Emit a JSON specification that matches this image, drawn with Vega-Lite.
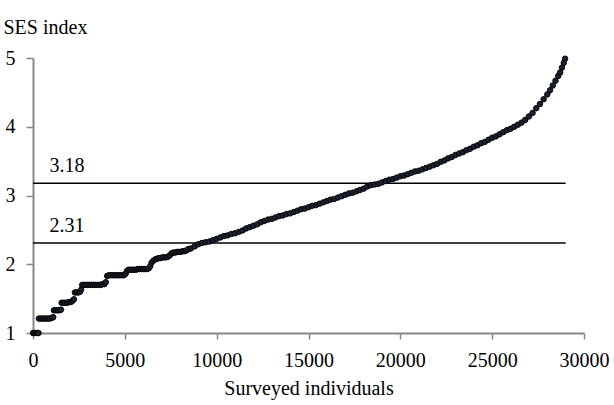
{
  "$schema": "https://vega.github.io/schema/vega-lite/v6.json",
  "width": 551,
  "height": 275,
  "autosize": "none",
  "padding": {"left": 33, "top": 58, "right": 30, "bottom": 72},
  "background": "white",
  "config": {
    "view": {"stroke": null},
    "font": "Liberation Serif",
    "axis": {
      "domainColor": "#878787",
      "domainWidth": 2,
      "tickColor": "#878787",
      "tickWidth": 1.5,
      "grid": false,
      "labelFont": "Liberation Serif",
      "labelFontSize": 20,
      "labelColor": "#000000",
      "titleFont": "Liberation Serif",
      "titleFontSize": 20,
      "titleFontWeight": "normal",
      "titleColor": "#000000"
    }
  },
  "datasets": {
    "pts": [
      {"x":0,"y":1.0},{"x":80,"y":1.0},{"x":160,"y":1.0},{"x":240,"y":1.0},{"x":300,"y":1.0},
      {"x":320,"y":1.21},{"x":420,"y":1.21},{"x":520,"y":1.21},{"x":620,"y":1.21},{"x":720,"y":1.21},{"x":820,"y":1.21},{"x":920,"y":1.21},{"x":1020,"y":1.22},{"x":1100,"y":1.23},
      {"x":1140,"y":1.33},{"x":1240,"y":1.33},{"x":1340,"y":1.33},{"x":1440,"y":1.33},{"x":1520,"y":1.34},
      {"x":1560,"y":1.44},{"x":1660,"y":1.44},{"x":1760,"y":1.44},{"x":1860,"y":1.44},{"x":1960,"y":1.45},{"x":2060,"y":1.45},{"x":2160,"y":1.47},{"x":2230,"y":1.49},
      {"x":2280,"y":1.59},{"x":2380,"y":1.59},{"x":2480,"y":1.59},{"x":2560,"y":1.6},{"x":2620,"y":1.63},
      {"x":2680,"y":1.7},{"x":2780,"y":1.7},{"x":2880,"y":1.7},{"x":2980,"y":1.7},{"x":3080,"y":1.7},{"x":3180,"y":1.7},{"x":3280,"y":1.7},{"x":3380,"y":1.7},{"x":3480,"y":1.7},{"x":3580,"y":1.7},{"x":3680,"y":1.7},{"x":3780,"y":1.71},{"x":3880,"y":1.71},{"x":3960,"y":1.74},
      {"x":4040,"y":1.83},{"x":4140,"y":1.84},{"x":4240,"y":1.84},{"x":4340,"y":1.84},{"x":4440,"y":1.84},{"x":4540,"y":1.84},{"x":4640,"y":1.84},{"x":4740,"y":1.84},{"x":4840,"y":1.84},{"x":4940,"y":1.84},{"x":5040,"y":1.86},
      {"x":5110,"y":1.9},{"x":5200,"y":1.92},{"x":5300,"y":1.92},{"x":5400,"y":1.92},{"x":5500,"y":1.92},{"x":5600,"y":1.92},{"x":5700,"y":1.93},{"x":5800,"y":1.93},{"x":5900,"y":1.93},{"x":6000,"y":1.93},{"x":6100,"y":1.93},{"x":6200,"y":1.93},{"x":6300,"y":1.94},{"x":6380,"y":1.97},
      {"x":6450,"y":2.02},{"x":6550,"y":2.05},{"x":6650,"y":2.07},{"x":6750,"y":2.08},{"x":6850,"y":2.09},{"x":6950,"y":2.09},{"x":7050,"y":2.1},{"x":7150,"y":2.1},{"x":7250,"y":2.1},{"x":7350,"y":2.11},{"x":7450,"y":2.13},
      {"x":7550,"y":2.16},{"x":7650,"y":2.17},{"x":7750,"y":2.17},{"x":7850,"y":2.18},{"x":7950,"y":2.18},{"x":8050,"y":2.18},{"x":8150,"y":2.19},{"x":8250,"y":2.19},{"x":8350,"y":2.2},
      {"x":8450,"y":2.22},{"x":8600,"y":2.23},{"x":8800,"y":2.26},{"x":9000,"y":2.29},{"x":9200,"y":2.31},{"x":9400,"y":2.32},{"x":9600,"y":2.33},{"x":9800,"y":2.35},{"x":10000,"y":2.37},{"x":10200,"y":2.39},{"x":10400,"y":2.41},{"x":10600,"y":2.42},{"x":10800,"y":2.44},{"x":11000,"y":2.45},{"x":11200,"y":2.47},{"x":11400,"y":2.49},{"x":11600,"y":2.52},{"x":11800,"y":2.54},{"x":12000,"y":2.56},{"x":12200,"y":2.58},{"x":12400,"y":2.61},{"x":12600,"y":2.63},{"x":12800,"y":2.65},{"x":13000,"y":2.66},{"x":13200,"y":2.68},{"x":13400,"y":2.7},{"x":13600,"y":2.71},{"x":13800,"y":2.73},{"x":14000,"y":2.74},{"x":14200,"y":2.76},{"x":14400,"y":2.78},{"x":14600,"y":2.8},{"x":14800,"y":2.81},{"x":15000,"y":2.83},{"x":15200,"y":2.85},{"x":15400,"y":2.86},{"x":15600,"y":2.88},{"x":15800,"y":2.9},{"x":16000,"y":2.92},{"x":16200,"y":2.94},{"x":16400,"y":2.95},{"x":16600,"y":2.97},{"x":16800,"y":2.99},{"x":17000,"y":3.01},{"x":17200,"y":3.03},{"x":17400,"y":3.04},{"x":17600,"y":3.06},{"x":17800,"y":3.08},{"x":18000,"y":3.1},{"x":18200,"y":3.13},{"x":18400,"y":3.15},{"x":18600,"y":3.16},{"x":18800,"y":3.17},{"x":19000,"y":3.19},{"x":19200,"y":3.21},{"x":19400,"y":3.23},{"x":19600,"y":3.24},{"x":19800,"y":3.26},{"x":20000,"y":3.28},{"x":20200,"y":3.29},{"x":20400,"y":3.31},{"x":20600,"y":3.33},{"x":20800,"y":3.35},{"x":21000,"y":3.36},{"x":21200,"y":3.38},{"x":21400,"y":3.4},{"x":21600,"y":3.42},{"x":21800,"y":3.44},{"x":22000,"y":3.46},{"x":22200,"y":3.49},{"x":22400,"y":3.51},{"x":22600,"y":3.54},{"x":22800,"y":3.56},{"x":23000,"y":3.59},{"x":23200,"y":3.61},{"x":23400,"y":3.63},{"x":23600,"y":3.66},{"x":23800,"y":3.68},{"x":24000,"y":3.71},{"x":24200,"y":3.73},{"x":24400,"y":3.76},{"x":24600,"y":3.78},{"x":24800,"y":3.81},{"x":25000,"y":3.84},{"x":25200,"y":3.86},{"x":25400,"y":3.89},{"x":25600,"y":3.92},{"x":25800,"y":3.95},{"x":26000,"y":3.97},{"x":26200,"y":4.0},{"x":26400,"y":4.03},{"x":26600,"y":4.06},{"x":26800,"y":4.1},{"x":27000,"y":4.15},{"x":27200,"y":4.2},{"x":27400,"y":4.27},{"x":27600,"y":4.33},{"x":27800,"y":4.4},{"x":28000,"y":4.47},{"x":28150,"y":4.53},{"x":28300,"y":4.6},{"x":28450,"y":4.67},{"x":28600,"y":4.74},{"x":28700,"y":4.79},{"x":28800,"y":4.86},{"x":28900,"y":4.93},{"x":28970,"y":4.99}
    ],
    "refs": [
      {"y": 3.18, "x0": 0, "x1": 29000, "lx": 900, "label": "3.18"},
      {"y": 2.31, "x0": 0, "x1": 29000, "lx": 900, "label": "2.31"}
    ]
  },
  "layer": [
    {
      "data": {"name": "refs"},
      "mark": {"type": "rule", "color": "#000000", "strokeWidth": 1.5},
      "encoding": {
        "x": {"field": "x0", "type": "quantitative", "scale": {"domain": [0, 30000]},
          "axis": {"values": [0,5000,10000,15000,20000,25000,30000], "tickSize": 6, "labelPadding": 11, "title": "Surveyed individuals", "titlePadding": 8, "format": "d", "labelFlush": false}},
        "x2": {"field": "x1"},
        "y": {"field": "y", "type": "quantitative", "scale": {"domain": [1, 5]},
          "axis": {"values": [1,2,3,4,5], "format": "d", "tickSize": 7, "labelPadding": 11, "title": "SES index", "titleAngle": 0, "titleAlign": "left", "titleBaseline": "alphabetic", "titleX": -30, "titleY": -25}}
      }
    },
    {
      "data": {"name": "refs"},
      "mark": {"type": "text", "align": "left", "baseline": "alphabetic", "dy": -11, "fontSize": 20, "font": "Liberation Serif", "color": "#000000"},
      "encoding": {
        "x": {"field": "lx", "type": "quantitative"},
        "y": {"field": "y", "type": "quantitative"},
        "text": {"field": "label"}
      }
    },
    {
      "data": {"name": "pts"},
      "mark": {"type": "point", "shape": "circle", "filled": true, "size": 30, "color": "#1b2130", "stroke": "#050505", "strokeWidth": 1, "opacity": 1},
      "encoding": {
        "x": {"field": "x", "type": "quantitative"},
        "y": {"field": "y", "type": "quantitative"}
      }
    }
  ]
}
